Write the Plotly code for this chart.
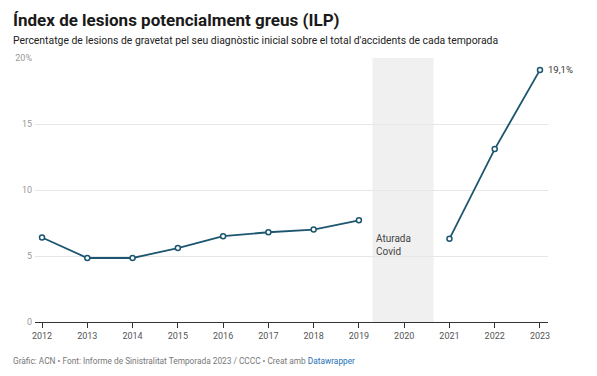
import plotly.graph_objects as go

years = [2012, 2013, 2014, 2015, 2016, 2017, 2018, 2019, 2020, 2021, 2022, 2023]
ilp = [6.4, 4.85, 4.85, 5.6, 6.5, 6.8, 7.0, 7.7, None, 6.3, 13.1, 19.1]
covid_span = [2019.3, 2020.65]
y_ticks = [0, 5, 10, 15, 20]
y_tick_labels = ["0", "5", "10", "15", "20%"]

line_color = "#1d5670"
FONT = "Roboto"

# figure is 589x368; the page adds an 8px body margin
W, H = 589, 368
L, R, T, B = 27, 49, 50, 54
PW, PH = W - L - R, H - T - B

fig = go.Figure()
fig.add_trace(go.Scatter(
    x=years, y=ilp, mode="lines+markers", connectgaps=False,
    line=dict(color=line_color, width=1.8),
    marker=dict(symbol="circle", size=5, color="white",
                line=dict(color=line_color, width=1.5)),
    hoverinfo="skip", showlegend=False, cliponaxis=False,
))

fig.add_vrect(x0=covid_span[0], x1=covid_span[1], fillcolor="#f0f0f0",
              line_width=0, layer="below")

fig.add_annotation(x=covid_span[0], y=5.85, xref="x", yref="y",
                   text="Aturada<br>Covid", showarrow=False,
                   xanchor="left", yanchor="middle", xshift=2, align="left",
                   font=dict(family=FONT, size=10, color="#444"))

fig.add_annotation(x=years[-1], y=ilp[-1], xref="x", yref="y",
                   text="19,1%", showarrow=False, xanchor="left", xshift=6,
                   font=dict(family=FONT, size=9.5, color="#333"))

fig.update_layout(
    width=W, height=H,
    margin=dict(l=L, r=R, t=T, b=B, autoexpand=False),
    paper_bgcolor="white", plot_bgcolor="white",
    font=dict(family=FONT, color="#333"),
    xaxis=dict(range=[2011.845, 2023.177], tickvals=years,
               ticktext=[str(y) for y in years], automargin=False,
               showgrid=False, zeroline=False, showline=True,
               linecolor="#333", linewidth=1,
               ticks="outside", ticklen=5, tickcolor="#333",
               tickfont=dict(family=FONT, size=9, color="#555")),
    yaxis=dict(range=[0, 20], tickvals=y_ticks, ticktext=y_tick_labels,
               automargin=False, ticklabelstandoff=2,
               showgrid=True, gridcolor="#e6e6e6", gridwidth=1,
               zeroline=False, showline=False, ticks="",
               tickfont=dict(family=FONT, size=9, color="#999")),
)

x_text = (3 - L) / PW
fig.add_annotation(xref="paper", yref="paper", x=x_text, y=1 + (T - 12) / PH,
                   xanchor="left", yanchor="middle", showarrow=False,
                   text="<b>Índex de lesions potencialment greus (ILP)</b>",
                   font=dict(family=FONT, size=17, color="#1a1a1a"))
fig.add_annotation(xref="paper", yref="paper", x=x_text, y=1 + (T - 33) / PH,
                   xanchor="left", yanchor="middle", showarrow=False,
                   text="Percentatge de lesions de gravetat pel seu diagnòstic inicial sobre el total d'accidents de cada temporada",
                   font=dict(family=FONT, size=10.4, color="#222"))
fig.add_annotation(xref="paper", yref="paper", x=x_text, y=-(353 - (H - B)) / PH,
                   xanchor="left", yanchor="middle", showarrow=False,
                   text="Gràfic: ACN • Font: Informe de Sinistralitat Temporada 2023 / CCCC • Creat amb <span style='color:#1d70b7'>Datawrapper</span>",
                   font=dict(family=FONT, size=8.3, color="#777"))

fig.write_html("out.html")
